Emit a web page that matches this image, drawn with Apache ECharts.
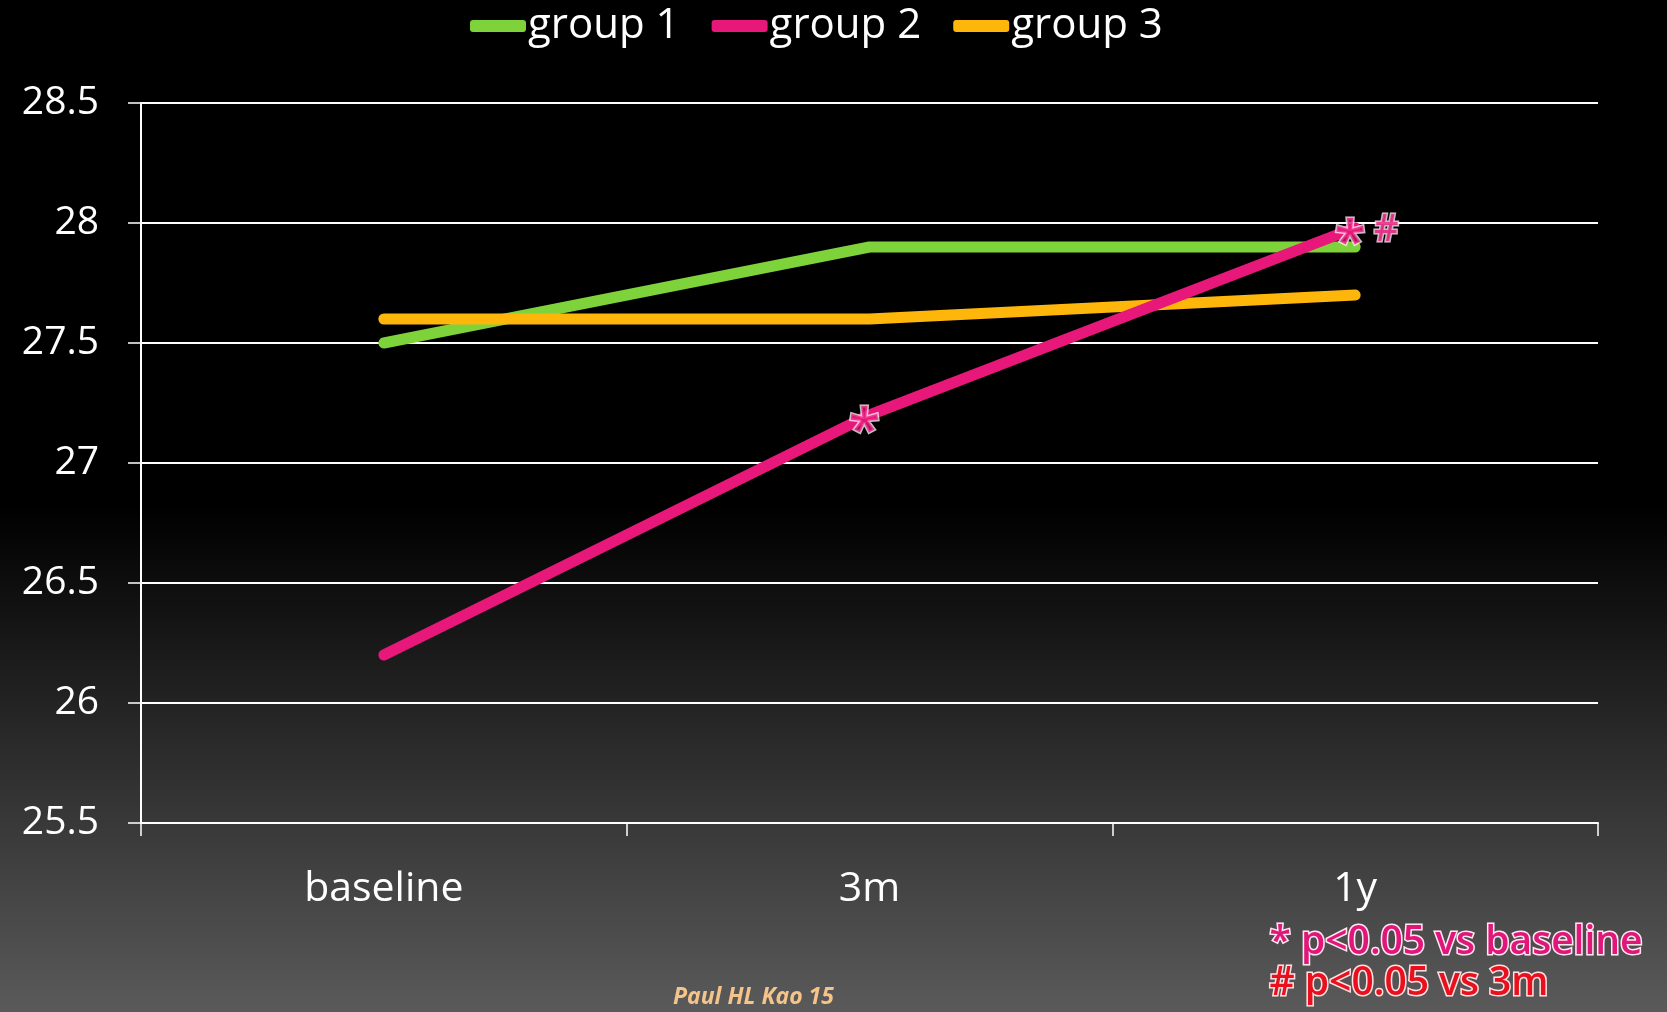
<!DOCTYPE html>
<html>
<head>
<meta charset="utf-8">
<script src="https://cdn.jsdelivr.net/npm/echarts@6/dist/echarts.min.js"></script>
<style>
  html, body { margin: 0; padding: 0; background: #000; }
  #chart { width: 1667px; height: 1012px; }
</style>
</head>
<body>
<div id="chart"></div>
<script>
// Time points and group means
const categories = ['baseline', '3m', '1y'];
const group1 = [27.5, 27.9, 27.9];
const group2 = [26.2, 27.2, 27.98];
const group3 = [27.6, 27.6, 27.7];
// Significance marks drawn on the group 2 points
const starMarks = ['', '*', '*'];   // p<0.05 vs baseline
const hashMarks = ['', '', '#'];    // p<0.05 vs 3m
const yTicks = { min: 25.5, max: 28.5, interval: 0.5 };

const chart = echarts.init(document.getElementById('chart'));
const font = '"Open Sans", "Noto Sans", sans-serif';
const pink = '#e8177a';
const colors = { g1: '#7ed23a', g2: pink, g3: '#ffb60a' };

function lineSeries(name, data, color, z) {
  return {
    name, type: 'line', data,
    symbol: 'none',
    color,
    itemStyle: { color },
    lineStyle: { width: 11, color, cap: 'round' },
    z
  };
}

// invisible points on group 2 carrying a text mark
function markSeries(name, marks, size, offset) {
  return {
    name,
    type: 'scatter',
    data: group2,
    symbolSize: 1,
    itemStyle: { color: 'rgba(0,0,0,0)' },
    z: 6,
    label: {
      show: true,
      position: 'inside',
      offset,
      formatter: p => marks[p.dataIndex],
      fontSize: size,
      fontWeight: 600,
      fontFamily: font,
      color: pink,
      textBorderColor: '#ffe8f2',
      textBorderWidth: 3
    }
  };
}

chart.setOption({
  backgroundColor: {
    type: 'linear', x: 0, y: 0, x2: 0, y2: 1,
    colorStops: [
      { offset: 0, color: '#000000' },
      { offset: 0.5, color: '#000000' },
      { offset: 1, color: '#5a5a5a' }
    ]
  },
  animation: false,
  legend: {
    top: 0,
    left: 465,
    itemWidth: 56,
    itemHeight: 12,
    itemGap: 32,
    icon: 'roundRect',
    textStyle: { color: '#fff', fontSize: 42, fontFamily: font, padding: [0, 0, 0, -3] },
    data: ['group 1', 'group 2', 'group 3']
  },
  grid: { left: 141, right: 69, top: 103, bottom: 189 },
  xAxis: {
    type: 'category',
    data: categories,
    boundaryGap: true,
    axisLine: { lineStyle: { color: '#fff', width: 2 } },
    axisTick: { show: true, length: 13, lineStyle: { color: '#fff', width: 1.5 } },
    axisLabel: { color: '#fff', fontSize: 41, fontFamily: font, margin: 46 }
  },
  yAxis: {
    type: 'value',
    min: yTicks.min,
    max: yTicks.max,
    interval: yTicks.interval,
    axisLine: { show: true, lineStyle: { color: '#fff', width: 2 } },
    axisTick: { show: true, length: 13, lineStyle: { color: '#fff', width: 1.5 } },
    splitLine: { show: true, lineStyle: { color: '#fff', width: 2 } },
    axisLabel: { color: '#fff', fontSize: 39, fontFamily: font, margin: 42 }
  },
  series: [
    lineSeries('group 1', group1, colors.g1, 3),
    lineSeries('group 2', group2, colors.g2, 4),
    lineSeries('group 3', group3, colors.g3, 3),
    markSeries('star', starMarks, 58, [-5, 18]),
    markSeries('hash', hashMarks, 38, [31, 2])
  ],
  graphic: [
    {
      type: 'text', left: 1268, top: 922,
      style: {
        text: '* p<0.05 vs baseline',
        font: '600 39px ' + font,
        fill: '#e0167a', stroke: '#ffe8f0', lineWidth: 3, strokeFirst: true
      }
    },
    {
      type: 'text', left: 1268, top: 963,
      style: {
        text: '# p<0.05 vs 3m',
        font: '600 39px ' + font,
        fill: '#e8101c', stroke: '#ffe0e4', lineWidth: 3, strokeFirst: true
      }
    },
    {
      type: 'text', left: 673, top: 986,
      style: {
        text: 'Paul HL Kao 15',
        font: 'italic bold 23px ' + font,
        fill: '#f5c48a'
      }
    }
  ]
});
</script>
</body>
</html>
